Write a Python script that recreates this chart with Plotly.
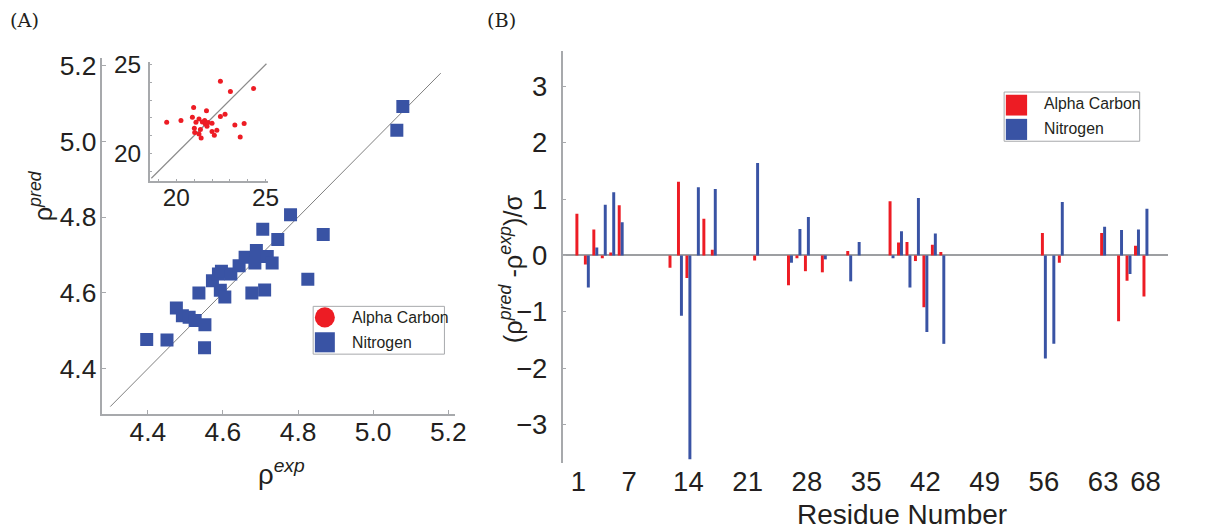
import plotly.graph_objects as go

# ---------------- data ----------------
# Panel A: Nitrogen (blue squares) rho_exp vs rho_pred
n_exp = [4.397, 4.451, 4.476, 4.492, 4.510, 4.526, 4.552, 4.551, 4.536, 4.572,
         4.588, 4.596, 4.593, 4.605, 4.621, 4.643, 4.659, 4.677, 4.685, 4.689,
         4.706, 4.711, 4.718, 4.731, 4.746, 4.780, 4.826, 4.867, 5.063, 5.079]
n_pred = [4.477, 4.476, 4.560, 4.540, 4.536, 4.527, 4.516, 4.455, 4.600, 4.632,
          4.650, 4.657, 4.607, 4.589, 4.650, 4.672, 4.694, 4.600, 4.679, 4.712,
          4.768, 4.608, 4.696, 4.679, 4.741, 4.806, 4.636, 4.754, 5.029, 5.092]

# Panel A inset: Alpha Carbon (red dots)
ca_exp = [19.46, 20.26, 20.90, 20.97, 21.01, 21.03, 21.10, 21.27, 21.27, 21.39,
          21.35, 21.46, 21.59, 21.63, 21.69, 21.72, 21.78, 22.00, 22.00, 22.13,
          22.27, 22.47, 22.47, 22.73, 23.03, 23.28, 23.58, 23.80, 24.33]
ca_pred = [21.75, 21.85, 22.04, 22.58, 21.42, 21.17, 21.75, 21.09, 21.94, 20.87,
           21.34, 21.77, 21.85, 21.66, 22.40, 21.53, 21.74, 21.70, 21.23, 21.02,
           21.30, 22.08, 24.06, 22.21, 23.49, 21.60, 20.92, 21.68, 23.66]

# identity lines
diag_main = [4.30, 5.18]
diag_inset = [18.6, 25.05]

# Panel B: (rho_pred - rho_exp)/sigma per residue
ca_res = [1, 2, 3, 4, 5, 6, 12, 13, 14, 16, 17, 22, 26, 27, 28, 30, 33, 38, 39, 40,
          41, 42, 43, 44, 56, 58, 63, 65, 66, 67, 68]
ca_dev = [0.74, -0.16, 0.46, -0.05, 0.05, 0.89, -0.22, 1.31, -0.40, 0.65, 0.10,
          -0.09, -0.53, -0.05, -0.28, -0.30, 0.08, 0.96, 0.23, 0.24, -0.10, -0.92,
          0.19, 0.06, 0.40, -0.13, 0.40, -1.17, -0.45, 0.17, -0.73]
n_res = [2, 3, 4, 5, 6, 13, 14, 15, 17, 22, 26, 27, 28, 30, 33, 34, 38, 39, 40, 41,
         42, 43, 44, 56, 57, 58, 63, 65, 66, 67, 68]
n_dev = [-0.57, 0.14, 0.90, 1.12, 0.59, -1.07, -3.62, 1.21, 1.18, 1.64, -0.13,
         0.47, 0.68, -0.07, -0.46, 0.24, -0.05, 0.43, -0.57, 1.02, -1.36, 0.39,
         -1.57, -1.83, -1.57, 0.95, 0.51, 0.45, -0.33, 0.46, 0.83]

a_ticks = [4.4, 4.6, 4.8, 5.0, 5.2]
inset_ticks = [20, 25]
b_xticks = [1, 7, 14, 21, 28, 35, 42, 49, 56, 63, 68]
b_yticks = [-3, -2, -1, 0, 1, 2, 3]

# ---------------- style ----------------
W, H = 1215, 527
RED = "#ED1C24"
BLUE = "#3953A4"
AX = "#A7A9AC"
TXT = "#231F20"
FONT = "Liberation Sans, Arial, Helvetica, sans-serif"
SERIF = "DejaVu Serif, Liberation Serif, serif"
FS = 1.017  # font scale


def fx(x):
    return ((x - 0.8) / 0.992) / W


def fy(y):
    return 1 - ((y - 11.6) / 0.975) / H


def f(size):
    return round(size * FS, 1)


fig = go.Figure()

fig.add_trace(go.Scatter(x=diag_main, y=diag_main, mode="lines",
                         line=dict(color="#7F7F7F", width=1),
                         xaxis="x", yaxis="y", hoverinfo="skip"))
fig.add_trace(go.Scatter(x=n_exp, y=n_pred, mode="markers", name="Nitrogen",
                         marker=dict(symbol="square", size=13, color=BLUE),
                         xaxis="x", yaxis="y"))
fig.add_trace(go.Scatter(x=diag_inset, y=diag_inset, mode="lines",
                         line=dict(color="#8C8C8C", width=1.2),
                         xaxis="x2", yaxis="y2", hoverinfo="skip"))
fig.add_trace(go.Scatter(x=ca_exp, y=ca_pred, mode="markers", name="Alpha Carbon",
                         marker=dict(symbol="circle", size=5, color=RED),
                         xaxis="x2", yaxis="y2"))
fig.add_trace(go.Bar(x=ca_res, y=ca_dev, name="Alpha Carbon",
                     marker=dict(color=RED, line=dict(width=0)),
                     xaxis="x3", yaxis="y3"))
fig.add_trace(go.Bar(x=n_res, y=n_dev, name="Nitrogen",
                     marker=dict(color=BLUE, line=dict(width=0)),
                     xaxis="x3", yaxis="y3"))

common = dict(showgrid=False, zeroline=False, linecolor=AX, linewidth=1.5,
              tickcolor=AX, ticks="inside", ticklen=4, tickwidth=1,
              tickfont=dict(family=FONT, size=f(26), color=TXT))
inset_common = dict(common)
inset_common.update(tickfont=dict(family=FONT, size=f(24), color=TXT), ticklen=3,
                    minor=dict(dtick=1, tick0=0, ticks="inside", ticklen=3,
                               tickcolor=AX, tickwidth=1))

fig.update_layout(
    width=W, height=H,
    margin=dict(l=0, r=0, t=0, b=0),
    paper_bgcolor="white", plot_bgcolor="white",
    showlegend=False,
    barmode="group", bargap=0.3, bargroupgap=0,
    font=dict(family=FONT, color=TXT),
    xaxis=dict(domain=[fx(103.3), fx(456.7)], range=[4.279, 5.219], anchor="y",
               showline=True, tickvals=a_ticks, tickformat=".1f",
               ticklabelstandoff=-6, **common),
    yaxis=dict(domain=[fy(412.7), fy(58)], range=[4.281, 5.221], anchor="x",
               showline=True, tickvals=a_ticks, tickformat=".1f",
               ticklabelstandoff=-1, **common),
    xaxis2=dict(domain=[fx(150.7), fx(269.3)], range=[18.51, 25.15], anchor="y2",
                showline=True, tickvals=inset_ticks, ticklabelstandoff=-6, **inset_common),
    yaxis2=dict(domain=[fy(181.3), fy(62.7)], range=[18.42, 25.13], anchor="x2",
                showline=True, tickvals=inset_ticks, ticklabelstandoff=2, **inset_common),
    xaxis3=dict(domain=[fx(564), fx(1170)], range=[-0.865, 70.66], anchor="y3",
                showline=False, showgrid=False, zeroline=False, ticks="",
                tickvals=b_xticks, ticklabelstandoff=-1,
                tickfont=dict(family=FONT, size=f(27), color=TXT)),
    yaxis3=dict(domain=[fy(461.7), fy(51.7)], range=[-3.686, 3.625], anchor="x3",
                showline=True, showgrid=False, zeroline=True, zerolinecolor="#9D9FA2",
                zerolinewidth=1.5, linecolor=AX, linewidth=1.5, ticks="inside",
                ticklen=4, tickcolor=AX, tickvals=b_yticks, ticklabelstandoff=8,
                tickfont=dict(family=FONT, size=f(27), color=TXT)),
)

ann = []
# axis titles
ann.append(dict(text="ρ<sup><i>exp</i></sup>", x=fx(283), y=fy(471), xref="paper", yref="paper",
                showarrow=False, xanchor="center", yanchor="middle",
                font=dict(family=FONT, size=f(27), color=TXT)))
ann.append(dict(text="ρ<sup><i>pred</i></sup>", x=fx(42), y=fy(196), xref="paper", yref="paper",
                showarrow=False, xanchor="center", yanchor="middle", textangle=-90,
                font=dict(family=FONT, size=f(25), color=TXT)))
ann.append(dict(text="Residue Number", x=fx(904), y=fy(513), xref="paper", yref="paper",
                showarrow=False, xanchor="center", yanchor="middle",
                font=dict(family=FONT, size=f(27.5), color=TXT)))
ann.append(dict(text="(ρ<sup><i>pred</i></sup> -ρ<sup><i>exp</i></sup>)/σ", x=fx(513), y=fy(268),
                xref="paper", yref="paper", showarrow=False, xanchor="center",
                yanchor="middle", textangle=-90,
                font=dict(family=FONT, size=f(25), color=TXT)))
# panel labels
ann.append(dict(text="(A)", x=fx(25), y=fy(21), xref="paper", yref="paper", showarrow=False,
                xanchor="center", yanchor="middle",
                font=dict(family=SERIF, size=f(19), color=TXT)))
ann.append(dict(text="(B)", x=fx(503), y=fy(21), xref="paper", yref="paper", showarrow=False,
                xanchor="center", yanchor="middle",
                font=dict(family=SERIF, size=f(19), color=TXT)))
# legend texts
for txt, xx, yy in [("Alpha Carbon", 350.7, 316.7), ("Nitrogen", 350.7, 341.3),
                    ("Alpha Carbon", 1044, 104), ("Nitrogen", 1044, 129)]:
    ann.append(dict(text=txt, x=fx(xx), y=fy(yy), xref="paper", yref="paper", showarrow=False,
                    xanchor="left", yanchor="middle",
                    font=dict(family=FONT, size=f(15.5), color=TXT)))
fig.update_layout(annotations=ann)

shapes = []
# legend A
shapes.append(dict(type="rect", xref="paper", yref="paper", x0=fx(314.3), x1=fx(445.7),
                   y0=fy(353.3), y1=fy(305.7), line=dict(color=AX, width=1), fillcolor="white"))
shapes.append(dict(type="circle", xref="paper", yref="paper", x0=fx(316), x1=fx(336),
                   y0=fy(326.7), y1=fy(306.7), line=dict(width=0), fillcolor=RED))
shapes.append(dict(type="rect", xref="paper", yref="paper", x0=fx(316), x1=fx(336),
                   y0=fy(351.5), y1=fy(331.5), line=dict(width=0), fillcolor=BLUE))
# legend B
shapes.append(dict(type="rect", xref="paper", yref="paper", x0=fx(1006), x1=fx(1141.7),
                   y0=fy(141.3), y1=fy(92.3), line=dict(color=AX, width=1), fillcolor="white"))
shapes.append(dict(type="rect", xref="paper", yref="paper", x0=fx(1007.7), x1=fx(1029),
                   y0=fy(115.7), y1=fy(95), line=dict(width=0), fillcolor=RED))
shapes.append(dict(type="rect", xref="paper", yref="paper", x0=fx(1007.7), x1=fx(1029),
                   y0=fy(140), y1=fy(119), line=dict(width=0), fillcolor=BLUE))
fig.update_layout(shapes=shapes)

fig.write_html("out.html",
               config={"displayModeBar": False},
               post_script="document.body.style.margin='0px';"
                           "document.body.style.overflow='hidden';")
